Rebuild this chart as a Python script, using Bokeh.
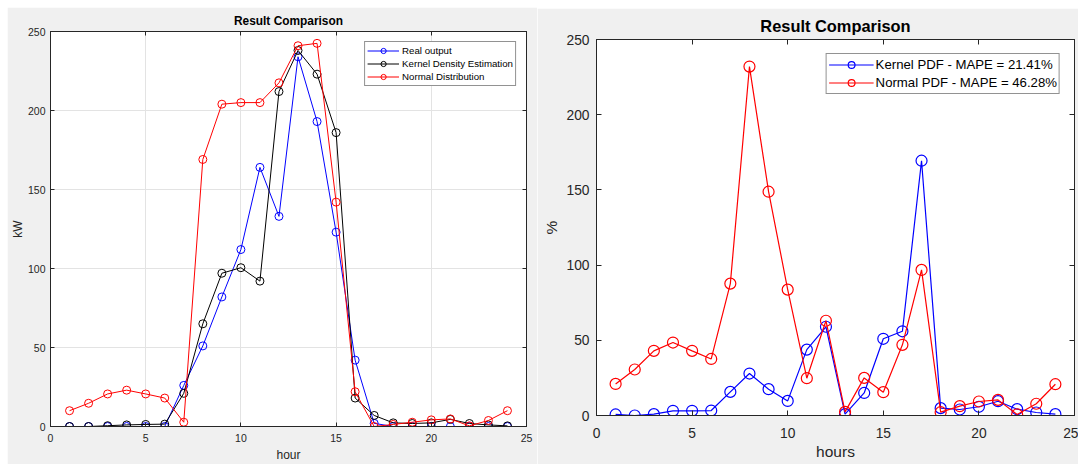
from bokeh.plotting import figure
from bokeh.models import Range1d, LinearAxis, FixedTicker
from bokeh.layouts import row, column
from bokeh.embed import file_html
from bokeh.resources import INLINE

# ---------------- data ----------------
hours = list(range(1, 25))

# Left chart: power (kW)
real_output = [0, 0, 0, 0, 0, 0, 26, 51, 82, 112, 164, 133, 234, 193, 123, 42, 2, 0, 0, 0, 0, 0, 0, 0]
kde_output = [0, 0, 0.5, 1, 1.3, 1.5, 21, 65, 97, 100.5, 92, 212, 238, 223, 186, 18, 7, 2.3, 1.9, 2.3, 4.5, 1.9, 1, 0.4]
normal_output = [10, 14.7, 20.6, 23, 20.6, 18, 2.7, 169, 204, 205, 205, 217.5, 241, 242.5, 142, 22, 0, 1.3, 2.7, 4.2, 4.8, 0.4, 3.8, 10]

# Right chart: error (%)
kernel_err = [0.7, 0, 0.9, 3.1, 3.1, 3.3, 15.7, 27.9, 17.5, 9.7, 43.8, 59, 0.9, 15, 51, 56, 169.4, 4.9, 4, 5.8, 9.5, 4.2, 2, 0.9]
normal_err = [21, 30.6, 43, 48.5, 43, 37.6, 87.7, 232, 148.8, 83.7, 24.8, 63, 2.4, 25, 15.5, 47, 96.8, 2.2, 6.2, 9.3, 10.4, 0.7, 7.8, 20.8]

x_ticks = [0, 5, 10, 15, 20, 25]
y_ticks = [0, 50, 100, 150, 200, 250]

left_labels = ["Real output", "Kernel Density Estimation", "Normal Distribution"]
right_labels = ["Kernel PDF - MAPE = 21.41%", "Normal PDF - MAPE = 46.28%"]

TITLE = "Result Comparison"
FONT = "Liberation Sans"
AX = "#262626"
GRAY = "#f0f0f0"


def style(p, tick_fs, label_fs, title_fs, tick_len, grid, xs, xls, ys, yls, ts):
    p.x_range = Range1d(0, 25)
    p.y_range = Range1d(0, 250)
    p.background_fill_color = "white"
    p.border_fill_color = GRAY
    p.outline_line_color = AX
    p.outline_line_width = 1
    p.title.text_font = FONT
    p.title.text_font_size = title_fs
    p.title.text_font_style = "bold"
    p.title.text_color = "black"
    p.title.align = "center"
    p.title.standoff = ts
    bottom = p.below[0]
    left = p.left[0]
    for ax in (bottom, left):
        ax.axis_label_text_font = FONT
        ax.axis_label_text_font_size = label_fs
        ax.axis_label_text_font_style = "normal"
        ax.axis_label_text_color = AX
        ax.major_label_text_font = FONT
        ax.major_label_text_font_size = tick_fs
        ax.major_label_text_color = AX
        ax.axis_line_color = AX
        ax.major_tick_line_color = AX
        ax.major_tick_in = tick_len
        ax.major_tick_out = 0
        ax.minor_tick_line_color = None
    bottom.ticker = FixedTicker(ticks=x_ticks)
    left.ticker = FixedTicker(ticks=y_ticks)
    bottom.major_label_standoff = xs
    bottom.axis_label_standoff = xls
    left.major_label_standoff = ys
    left.axis_label_standoff = yls
    if grid:
        p.xgrid.ticker = FixedTicker(ticks=x_ticks)
        p.ygrid.ticker = FixedTicker(ticks=y_ticks)
        p.grid.grid_line_color = "#e3e3e3"
        p.grid.grid_line_width = 1
    else:
        p.grid.grid_line_color = None
    # mirrored inward ticks on top and right (box style), without labels
    top = LinearAxis(ticker=FixedTicker(ticks=x_ticks),
                     major_label_overrides={t: "" for t in x_ticks},
                     major_label_standoff=0, major_tick_in=tick_len, major_tick_out=0,
                     minor_tick_line_color=None, axis_line_color=AX, major_tick_line_color=AX)
    right = LinearAxis(ticker=FixedTicker(ticks=y_ticks),
                       major_label_overrides={t: "" for t in y_ticks},
                       major_label_standoff=0, major_tick_in=tick_len, major_tick_out=0,
                       minor_tick_line_color=None, axis_line_color=AX, major_tick_line_color=AX)
    p.add_layout(top, "above")
    p.add_layout(right, "right")


def style_legend(lg, margin, spacing, lh, gw, standoff, fs):
    lg.location = "top_right"
    lg.margin = margin
    lg.padding = 2
    lg.spacing = spacing
    lg.label_height = lh
    lg.glyph_height = lh
    lg.glyph_width = gw
    lg.label_standoff = standoff
    lg.label_text_font = FONT
    lg.label_text_font_size = fs
    lg.label_text_color = "black"
    lg.border_line_color = AX
    lg.border_line_width = 1
    lg.background_fill_color = "white"
    lg.background_fill_alpha = 1


# ---------------- left chart ----------------
p1 = figure(width=530, height=457, title=TITLE, output_backend="svg", toolbar_location=None,
            min_border_left=42, min_border_right=11, min_border_top=24, min_border_bottom=37,
            x_axis_label="hour", y_axis_label="kW")
style(p1, "10.5px", "12px", "11.9px", 4, True, xs=7, xls=3, ys=5, yls=0, ts=7)
p1.margin = (7, 0, 0, 7)

for ys_, col, lab in zip([real_output, kde_output, normal_output], ["#0000ff", "#000000", "#ff0000"], left_labels):
    p1.line(hours, ys_, line_color=col, line_width=1, legend_label=lab)
    p1.scatter(hours, ys_, marker="circle", size=8, fill_color=None, line_color=col, line_width=1,
               legend_label=lab)
style_legend(p1.legend[0], 10, 0, 13, 32, 3, "9.7px")

# ---------------- right chart ----------------
p2 = figure(width=541, height=456, title=TITLE, output_backend="svg", toolbar_location=None,
            min_border_left=59, min_border_right=4, min_border_top=31, min_border_bottom=49,
            x_axis_label="hours", y_axis_label="%")
style(p2, "13.8px", "15.5px", "16.4px", 5, False, xs=12, xls=2, ys=7, yls=3, ts=10)
p2.margin = (8, 0, 0, 0)

for ys_, col, lab in zip([kernel_err, normal_err], ["#0000ff", "#ff0000"], right_labels):
    p2.line(hours, ys_, line_color=col, line_width=1.2, legend_label=lab)
    p2.scatter(hours, ys_, marker="circle", size=11, fill_color=None, line_color=col, line_width=1.2,
               legend_label=lab)
style_legend(p2.legend[0], 14, 1, 17, 45, 2, "13.2px")

layout = row(column(p1), column(p2))
open("out.html", "w").write(file_html(layout, INLINE))
